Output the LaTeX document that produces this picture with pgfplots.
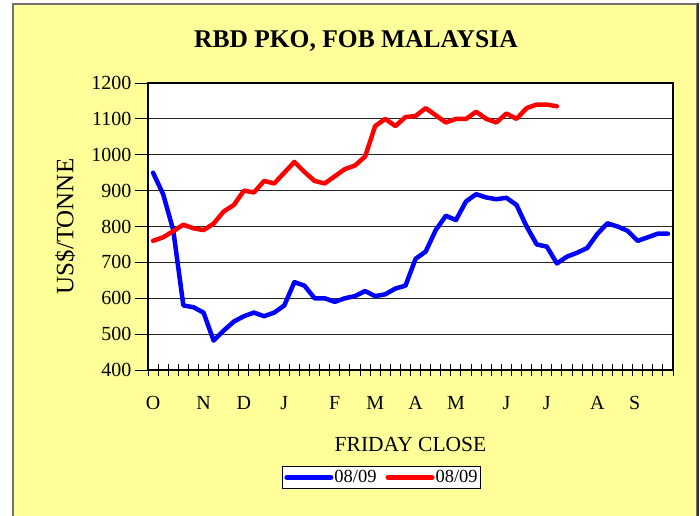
\documentclass[border=0pt]{standalone}
\usepackage{pgfplots}
\pgfplotsset{compat=1.18}
\usepackage{fontspec}
\setmainfont{Liberation Serif}
\definecolor{chartbg}{HTML}{FFFF99}
\begin{document}
\begin{tikzpicture}
\path[use as bounding box] (0pt,0pt) rectangle (700pt,-515pt);
\fill[white] (0pt,0pt) rectangle (700pt,-515pt);
\filldraw[fill=chartbg, draw=black!55, line width=1.5pt] (12.8pt,-4.2pt) rectangle (697pt,-530pt);
\draw[black!80, line width=2pt] (698pt,-3pt) -- (698pt,-530pt);
\begin{axis}[
  at={(148pt,-370pt)}, anchor=south west,
  scale only axis, width=525pt, height=287pt,
  xmin=-0.5, xmax=51.5, ymin=400, ymax=1200,
  axis background/.style={fill=white},
  axis line style={black, line width=1.2pt},
  ytick={400,500,...,1200},
  ymajorgrids, grid style={black!85, line width=0.8pt},
  xtick pos=bottom, ytick pos=left,
  ytick align=outside, xtick align=center,
  major tick length=13pt,
  tick style={black, line width=1pt},
  xtick={0,5,9,13,18,22,26,30,35,39,44,47.7},
  xticklabels={O,N,D,J,F,M,A,M,J,J,A,S},
  major x tick style={draw=none},
  minor xtick={-0.5,0.5,...,51.5},
  minor tick length=12pt,
  minor x tick style={black, line width=1pt},
  tick label style={font=\fontsize{20}{24}\selectfont},
  xticklabel style={yshift=-16pt},
  /pgf/number format/assume math mode=true,
  /pgf/number format/1000 sep={},
  title={RBD PKO, FOB MALAYSIA},
  title style={at={(axis description cs:0.396,1.1045)}, anchor=base, font=\bfseries\fontsize{25.5}{30}\selectfont},
  xlabel={FRIDAY CLOSE},
  xlabel style={at={(axis description cs:0.5,-0.2822)}, anchor=base, font=\fontsize{21.5}{26}\selectfont},
  ylabel={US\$/TONNE},
  ylabel style={at={(axis description cs:-0.1423,0.5)}, anchor=base, font=\fontsize{25}{30}\selectfont},
  legend columns=2,
  legend style={at={(axis description cs:0.4448,-0.3746)}, anchor=center, draw=black, fill=white, line width=0.8pt,
    font=\fontsize{18.5}{22}\selectfont, inner xsep=2pt, inner ysep=2pt,
    nodes={inner xsep=1pt, inner ysep=2pt},
    /tikz/every even column/.append style={column sep=8pt}},
  legend image code/.code={\draw[#1, line width=5pt, line cap=round] (0pt,0pt) -- (44pt,0pt);},
]
\addplot[blue, line width=4.5pt, line join=round, line cap=round] table[x=i, y=v] {
i v
0 950
1 890
2 790
3 580
4 575
5 560
6 482
7 510
8 535
9 550
10 560
11 550
12 560
13 580
14 645
15 635
16 600
17 600
18 590
19 600
20 606
21 620
22 606
23 611
24 627
25 635
26 710
27 730
28 790
29 830
30 818
31 870
32 890
33 881
34 876
35 880
36 860
37 800
38 750
39 744
40 697
41 716
42 727
43 740
44 779
45 809
46 800
47 788
48 760
49 770
50 780
51 780
};
\addlegendentry{08/09}
\addplot[red, line width=4.5pt, line join=round, line cap=round] table[x=i, y=v] {
i v
0 760
1 770
2 787
3 805
4 795
5 790
6 808
7 842
8 860
9 900
10 895
11 927
12 920
13 950
14 980
15 952
16 927
17 920
18 940
19 960
20 970
21 995
22 1080
23 1100
24 1080
25 1105
26 1108
27 1130
28 1110
29 1090
30 1100
31 1100
32 1120
33 1100
34 1090
35 1115
36 1100
37 1130
38 1140
39 1140
40 1135
};
\addlegendentry{08/09}
\end{axis}
\end{tikzpicture}
\end{document}
